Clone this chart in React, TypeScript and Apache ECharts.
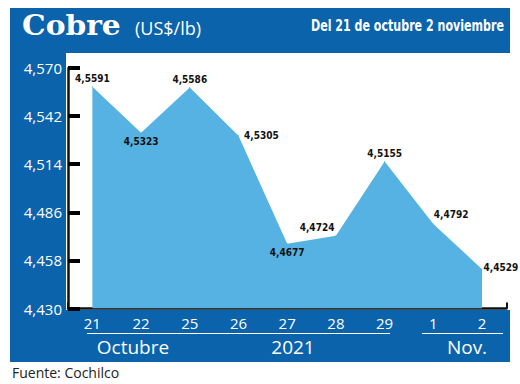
import React, { useEffect, useRef } from "react";
import * as echarts from "echarts";

const days = ["21", "22", "25", "26", "27", "28", "29", "1", "2"];
const prices = [4.5591, 4.5323, 4.5586, 4.5305, 4.4677, 4.4724, 4.5155, 4.4792, 4.4529];
const yMin = 4.43;
const yMax = 4.57;
const yStep = 0.028;
const monthLabels = ["Octubre", "2021", "Nov."];

const BLUE = "#0b63ab";
const AREA = "#55b2e2";
const INK = "#111111";

const labelPlace: any[] = [
  { position: "top", distance: 3 },
  { position: "bottom", distance: 3 },
  { position: "top", distance: 3 },
  { position: "right", distance: 5, offset: [0, 0] },
  { position: "bottom", distance: 3 },
  { position: "left", distance: 1, offset: [0, -8] },
  { position: "top", distance: 3 },
  { position: "right", distance: 0, offset: [0, -9] },
  { position: "right", distance: 1, offset: [0, -2] },
];

const fmt3 = (v: number) => v.toFixed(3).replace(".", ",");
const fmt4 = (v: number) => v.toFixed(4).replace(".", ",");

export default function App() {
  const ref = useRef<HTMLDivElement>(null);
  useEffect(() => {
    const chart = echarts.init(ref.current!, null, { renderer: "svg" });
    const scale = 1000;
    const data = prices.map((v, i) => ({
      value: (v - yMin) * scale,
      label: labelPlace[i],
    }));
    chart.setOption({
      animation: false,
      backgroundColor: "#ffffff",
      grid: { left: 68, right: 13.6, top: 68, bottom: 75.5, containLabel: false },
      xAxis: {
        type: "category",
        data: days,
        boundaryGap: true,
        axisLine: { show: true, onZero: false, lineStyle: { color: INK, width: 2.5, opacity: 1 } },
        axisTick: { show: true, inside: true, length: 6, lineStyle: { color: INK, width: 2, opacity: 1 } },
        axisLabel: { color: "#fff", fontSize: 15, fontFamily: "Open Sans", margin: 7 },
        splitLine: { show: false },
      },
      yAxis: {
        type: "value",
        min: 0,
        max: (yMax - yMin) * scale,
        interval: yStep * scale,
        axisLine: { show: true, lineStyle: { color: INK, width: 2.5, opacity: 1 } },
        axisTick: { show: true, inside: true, length: 12, lineStyle: { color: "#000000", width: 4, opacity: 1 } },
        axisLabel: {
          color: "#fff",
          fontSize: 15,
          fontFamily: "Open Sans",
          margin: 6,
          formatter: (v: number) => fmt3(yMin + v / scale),
        },
        splitLine: { show: false },
      },
      series: [
        {
          type: "line",
          data,
          symbol: "circle",
          symbolSize: 1,
          showSymbol: true,
          itemStyle: { color: AREA },
          lineStyle: { width: 0, color: AREA },
          areaStyle: { color: AREA, opacity: 1 },
          z: 3,
          label: {
            show: true,
            color: "#111",
            fontSize: 10,
            fontWeight: "bold",
            fontFamily: "'DejaVu Sans Condensed', sans-serif",
            formatter: (p: any) => fmt4(prices[p.dataIndex]),
          },
        },
      ],
      graphic: [
        { type: "rect", z: -10, shape: { x: 10, y: 8, width: 500, height: 45 }, style: { fill: BLUE } },
        { type: "rect", z: -10, shape: { x: 10, y: 8, width: 56, height: 354 }, style: { fill: BLUE } },
        { type: "rect", z: -10, shape: { x: 10, y: 310, width: 500, height: 52 }, style: { fill: BLUE } },
        {
          type: "text", z: 10, x: 22, y: 25, scaleX: 1.1,
          style: { text: "Cobre", fill: "#fff", font: "bold 27px 'DejaVu Serif'", verticalAlign: "middle", align: "left" },
        },
        {
          type: "text", z: 10, x: 135, y: 28,
          style: { text: "(US$/lb)", fill: "#fff", font: "18px 'Open Sans'", verticalAlign: "middle", align: "left" },
        },
        {
          type: "text", z: 10, x: 504, y: 25, scaleX: 0.77,
          style: {
            text: "Del 21 de octubre 2 noviembre", fill: "#fff",
            font: "bold 16px 'DejaVu Sans Condensed'",
            verticalAlign: "middle", align: "right",
          },
        },
        { type: "line", z: 10, shape: { x1: 87, y1: 333.5, x2: 390, y2: 333.5 }, style: { stroke: "#fff", lineWidth: 1 } },
        { type: "line", z: 10, shape: { x1: 422, y1: 333.5, x2: 503, y2: 333.5 }, style: { stroke: "#fff", lineWidth: 1 } },
        {
          type: "text", z: 10, x: 133, y: 347,
          style: { text: monthLabels[0], fill: "#fff", font: "19px 'Open Sans'", verticalAlign: "middle", align: "center" },
        },
        {
          type: "text", z: 10, x: 293, y: 347,
          style: { text: monthLabels[1], fill: "#fff", font: "19px 'Open Sans'", verticalAlign: "middle", align: "center" },
        },
        {
          type: "text", z: 10, x: 467, y: 347,
          style: { text: monthLabels[2], fill: "#fff", font: "19px 'Open Sans'", verticalAlign: "middle", align: "center" },
        },
        {
          type: "text", z: 10, x: 12, y: 372,
          style: { text: "Fuente: Cochilco", fill: "#222", font: "14px 'Open Sans'", verticalAlign: "middle", align: "left" },
        },
      ],
    });
    return () => chart.dispose();
  }, []);
  return (
    <div
      ref={ref}
      style={{ position: "fixed", left: 0, top: 0, width: 520, height: 384 }}
    />
  );
}
